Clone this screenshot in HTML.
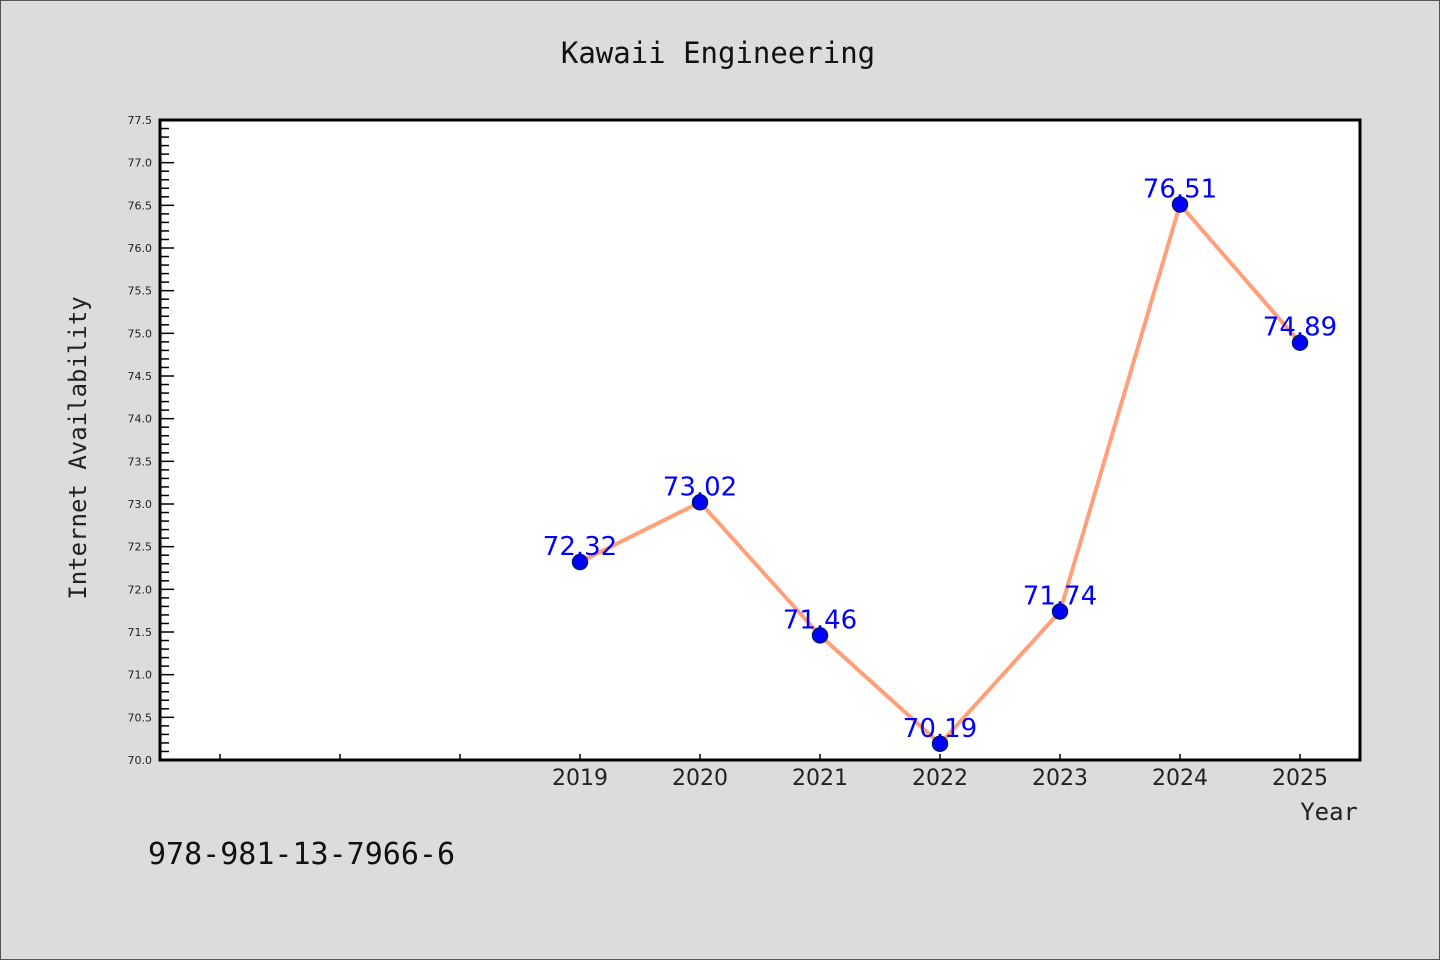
<!DOCTYPE html>
<html><head><meta charset="utf-8"><style>
body{margin:0;background:#dcdcdc;}
svg{display:block;}
</style></head><body>
<svg width="1440" height="960" xmlns="http://www.w3.org/2000/svg">
<rect x="0.5" y="0.5" width="1439" height="959" fill="#dcdcdc" stroke="#555"/>
<text x="718" y="63" text-anchor="middle" font-family="'DejaVu Sans Mono','Liberation Mono',monospace" font-size="29" fill="#111">Kawaii Engineering</text>
<rect x="160" y="120" width="1200" height="640" fill="#fff"/>
<g id="axes"></g>
<g id="marks"></g>
<text x="86" y="448" text-anchor="middle" transform="rotate(-90 86 448)" font-family="'DejaVu Sans Mono','Liberation Mono',monospace" font-size="24" fill="#222">Internet Availability</text>
<text x="1358" y="820" text-anchor="end" font-family="'DejaVu Sans Mono','Liberation Mono',monospace" font-size="24" fill="#222">Year</text>
<text x="148" y="864" font-family="'DejaVu Sans Mono','Liberation Mono',monospace" font-size="30" fill="#111">978-981-13-7966-6</text>
<rect x="160" y="120" width="1200" height="640" fill="none" stroke="#000" stroke-width="3"/>
</svg>
<script>
const years=[2019,2020,2021,2022,2023,2024,2025];
const values=[72.32,73.02,71.46,70.19,71.74,76.51,74.89];
const valueLabels=["72.32","73.02","71.46","70.19","71.74","76.51","74.89"];
const xTickYears=[2016,2017,2018,2019,2020,2021,2022,2023,2024,2025];
const NS="http://www.w3.org/2000/svg";
const X0=160,X1=1360,Y0=760,Y1=120,XMIN=2015.5,XMAX=2025.5,YMIN=70,YMAX=77.5;
const xs=v=>X0+(v-XMIN)/(XMAX-XMIN)*(X1-X0);
const ys=v=>Y0-(v-YMIN)/(YMAX-YMIN)*(Y0-Y1);
function mk(tag,attrs,parent){const e=document.createElementNS(NS,tag);for(const k in attrs)e.setAttribute(k,attrs[k]);parent.appendChild(e);return e;}
const axes=document.getElementById('axes'),marks=document.getElementById('marks');
for(let i=0;i<=75;i++){
  const v=YMIN+i*0.1,y=ys(v),major=i%5===0;
  const t=mk('line',{x1:X0,x2:X0+(major?14:9),y1:y,y2:y,stroke:'#000','stroke-width':1.5},axes);
  
  
  if(major){
    const l=mk('text',{x:X0-8,y:y+4,'text-anchor':'end','font-family':"'DejaVu Sans','Liberation Sans',sans-serif",'font-size':11,fill:'#222'},axes);
    l.textContent=v.toFixed(1);
    
    
  }
}
xTickYears.forEach(yr=>{
  const x=xs(yr);
  const t=mk('line',{x1:x,x2:x,y1:Y0,y2:Y0-6,stroke:'#000','stroke-width':1.5},axes);
  
  
  if(years.includes(yr)){
    const l=mk('text',{x:x,y:Y0+25,'text-anchor':'middle','font-family':"'DejaVu Sans','Liberation Sans',sans-serif",'font-size':22,fill:'#222'},axes);
    l.textContent=String(yr);
    
    
  }
});
const pts=years.map((y,i)=>xs(y)+','+ys(values[i])).join(' ');
const line=mk('polyline',{points:pts,fill:'none',stroke:'#ffa07a','stroke-width':4,'stroke-linejoin':'round'},marks);


years.forEach((y,i)=>{
  const c=mk('circle',{cx:xs(y),cy:ys(values[i]),r:7.5,fill:'#0000ff',stroke:'#001a66','stroke-width':1.5},marks);
  
  
  const l=mk('text',{x:xs(y),y:ys(values[i])-7,'text-anchor':'middle','font-family':"'DejaVu Sans','Liberation Sans',sans-serif",'font-size':26,fill:'#0000ff'},marks);
  l.textContent=valueLabels[i];
  
  
});
</script>
</body></html>
